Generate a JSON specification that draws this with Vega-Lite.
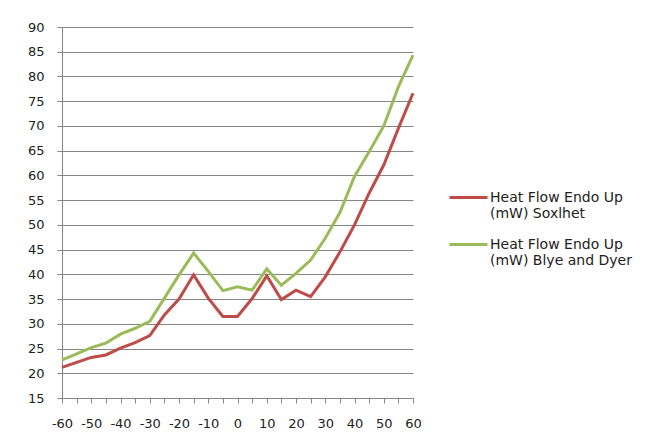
{
  "$schema": "https://vega.github.io/schema/vega-lite/v6.json",
  "width": 351,
  "height": 371,
  "autosize": {"type": "none"},
  "padding": {"left": 62, "top": 27, "right": 238, "bottom": 46},
  "background": "white",
  "config": {
    "view": {"stroke": null},
    "font": "DejaVu Sans"
  },
  "data": {
    "values": [
      {"t": -60, "v": 21.2, "s": "Heat Flow Endo Up (mW) Soxlhet"},
      {"t": -55, "v": 22.2, "s": "Heat Flow Endo Up (mW) Soxlhet"},
      {"t": -50, "v": 23.2, "s": "Heat Flow Endo Up (mW) Soxlhet"},
      {"t": -45, "v": 23.7, "s": "Heat Flow Endo Up (mW) Soxlhet"},
      {"t": -40, "v": 25.1, "s": "Heat Flow Endo Up (mW) Soxlhet"},
      {"t": -35, "v": 26.2, "s": "Heat Flow Endo Up (mW) Soxlhet"},
      {"t": -30, "v": 27.6, "s": "Heat Flow Endo Up (mW) Soxlhet"},
      {"t": -25, "v": 31.8, "s": "Heat Flow Endo Up (mW) Soxlhet"},
      {"t": -20, "v": 35.0, "s": "Heat Flow Endo Up (mW) Soxlhet"},
      {"t": -15, "v": 39.9, "s": "Heat Flow Endo Up (mW) Soxlhet"},
      {"t": -10, "v": 35.2, "s": "Heat Flow Endo Up (mW) Soxlhet"},
      {"t": -5, "v": 31.5, "s": "Heat Flow Endo Up (mW) Soxlhet"},
      {"t": 0, "v": 31.5, "s": "Heat Flow Endo Up (mW) Soxlhet"},
      {"t": 5, "v": 35.1, "s": "Heat Flow Endo Up (mW) Soxlhet"},
      {"t": 10, "v": 39.7, "s": "Heat Flow Endo Up (mW) Soxlhet"},
      {"t": 15, "v": 34.9, "s": "Heat Flow Endo Up (mW) Soxlhet"},
      {"t": 20, "v": 36.8, "s": "Heat Flow Endo Up (mW) Soxlhet"},
      {"t": 25, "v": 35.5, "s": "Heat Flow Endo Up (mW) Soxlhet"},
      {"t": 30, "v": 39.5, "s": "Heat Flow Endo Up (mW) Soxlhet"},
      {"t": 35, "v": 44.5, "s": "Heat Flow Endo Up (mW) Soxlhet"},
      {"t": 40, "v": 50.0, "s": "Heat Flow Endo Up (mW) Soxlhet"},
      {"t": 45, "v": 56.4, "s": "Heat Flow Endo Up (mW) Soxlhet"},
      {"t": 50, "v": 62.1, "s": "Heat Flow Endo Up (mW) Soxlhet"},
      {"t": 55, "v": 69.5, "s": "Heat Flow Endo Up (mW) Soxlhet"},
      {"t": 60, "v": 76.6, "s": "Heat Flow Endo Up (mW) Soxlhet"},
      {"t": -60, "v": 22.7, "s": "Heat Flow Endo Up (mW) Blye and Dyer"},
      {"t": -55, "v": 23.9, "s": "Heat Flow Endo Up (mW) Blye and Dyer"},
      {"t": -50, "v": 25.2, "s": "Heat Flow Endo Up (mW) Blye and Dyer"},
      {"t": -45, "v": 26.1, "s": "Heat Flow Endo Up (mW) Blye and Dyer"},
      {"t": -40, "v": 27.9, "s": "Heat Flow Endo Up (mW) Blye and Dyer"},
      {"t": -35, "v": 29.1, "s": "Heat Flow Endo Up (mW) Blye and Dyer"},
      {"t": -30, "v": 30.5, "s": "Heat Flow Endo Up (mW) Blye and Dyer"},
      {"t": -25, "v": 35.2, "s": "Heat Flow Endo Up (mW) Blye and Dyer"},
      {"t": -20, "v": 39.9, "s": "Heat Flow Endo Up (mW) Blye and Dyer"},
      {"t": -15, "v": 44.3, "s": "Heat Flow Endo Up (mW) Blye and Dyer"},
      {"t": -10, "v": 40.6, "s": "Heat Flow Endo Up (mW) Blye and Dyer"},
      {"t": -5, "v": 36.7, "s": "Heat Flow Endo Up (mW) Blye and Dyer"},
      {"t": 0, "v": 37.5, "s": "Heat Flow Endo Up (mW) Blye and Dyer"},
      {"t": 5, "v": 36.8, "s": "Heat Flow Endo Up (mW) Blye and Dyer"},
      {"t": 10, "v": 41.1, "s": "Heat Flow Endo Up (mW) Blye and Dyer"},
      {"t": 15, "v": 37.8, "s": "Heat Flow Endo Up (mW) Blye and Dyer"},
      {"t": 20, "v": 40.2, "s": "Heat Flow Endo Up (mW) Blye and Dyer"},
      {"t": 25, "v": 42.9, "s": "Heat Flow Endo Up (mW) Blye and Dyer"},
      {"t": 30, "v": 47.3, "s": "Heat Flow Endo Up (mW) Blye and Dyer"},
      {"t": 35, "v": 52.5, "s": "Heat Flow Endo Up (mW) Blye and Dyer"},
      {"t": 40, "v": 59.8, "s": "Heat Flow Endo Up (mW) Blye and Dyer"},
      {"t": 45, "v": 64.8, "s": "Heat Flow Endo Up (mW) Blye and Dyer"},
      {"t": 50, "v": 70.0, "s": "Heat Flow Endo Up (mW) Blye and Dyer"},
      {"t": 55, "v": 77.9, "s": "Heat Flow Endo Up (mW) Blye and Dyer"},
      {"t": 60, "v": 84.3, "s": "Heat Flow Endo Up (mW) Blye and Dyer"}
    ]
  },
  "mark": {"type": "line", "strokeWidth": 3, "strokeJoin": "miter"},
  "encoding": {
    "x": {
      "field": "t",
      "type": "quantitative",
      "scale": {"domain": [-60, 60], "nice": false, "zero": false},
      "axis": {
        "title": null,
        "grid": false,
        "values": [-60,-55,-50,-45,-40,-35,-30,-25,-20,-15,-10,-5,0,5,10,15,20,25,30,35,40,45,50,55,60],
        "labelExpr": "datum.value % 10 == 0 ? toString(datum.value) : ''",
        "labelFlush": false,
        "labelOverlap": false,
        "labelFont": "DejaVu Sans",
        "labelFontSize": 13,
        "labelColor": "#222222",
        "labelPadding": 14,
        "domainColor": "#868686",
        "tickColor": "#868686",
        "tickSize": 5
      }
    },
    "y": {
      "field": "v",
      "type": "quantitative",
      "scale": {"domain": [15, 90], "nice": false, "zero": false},
      "axis": {
        "title": null,
        "values": [15,20,25,30,35,40,45,50,55,60,65,70,75,80,85,90],
        "labelFont": "DejaVu Sans",
        "labelFontSize": 13,
        "labelColor": "#222222",
        "labelPadding": 13,
        "domainColor": "#868686",
        "tickColor": "#868686",
        "tickSize": 5,
        "gridColor": "#868686",
        "gridWidth": 1
      }
    },
    "color": {
      "field": "s",
      "type": "nominal",
      "sort": ["Heat Flow Endo Up (mW) Soxlhet", "Heat Flow Endo Up (mW) Blye and Dyer"],
      "scale": {"range": ["#BE4B48", "#9BBB59"]},
      "legend": {
        "title": null,
        "orient": "none",
        "legendX": 386,
        "legendY": 150,
        "padding": 0,
        "symbolType": "stroke",
        "symbolSize": 1444,
        "symbolStrokeWidth": 3,
        "labelFont": "DejaVu Sans",
        "labelFontSize": 14,
        "labelColor": "#222222",
        "labelLimit": 300,
        "labelOffset": 1,
        "labelExpr": "[slice(datum.label, 0, 17), slice(datum.label, 18)]",
        "labelBaseline": "middle",
        "rowPadding": 3,
        "encoding": {"labels": {"update": {"lineHeight": {"value": 20}}}}
      }
    }
  }
}
